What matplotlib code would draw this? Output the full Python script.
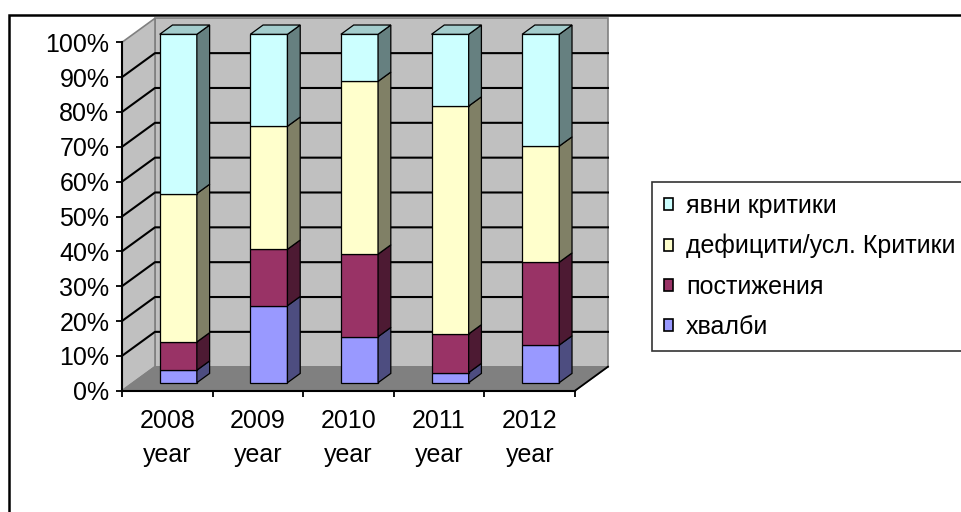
import numpy as np
import matplotlib
matplotlib.use('Agg')
import matplotlib.pyplot as plt
from matplotlib.patches import Polygon, Patch, Rectangle

plt.rcParams['font.family'] = ['Liberation Sans', 'DejaVu Sans']

# data (percent of each year)
years = ['2008\nyear', '2009\nyear', '2010\nyear', '2011\nyear', '2012\nyear']
names = ['хвалби', 'постижения', 'дефицити/усл. Критики', 'явни критики']
hvalbi = [3.6, 22.1, 13.2, 2.9, 10.8]
postizhenia = [8.1, 16.2, 23.7, 11.1, 23.8]
deficiti = [42.6, 35.3, 49.6, 65.4, 33.3]
kritiki = [45.7, 26.4, 13.5, 20.6, 32.1]

front_c = ['#9999FF', '#993366', '#FFFFCC', '#CCFFFF']
side_c = ['#4D4D80', '#4D1A33', '#808066', '#668080']
top_c = ['#7A7ACC', '#7A2952', '#CCCCA3', '#A3CCCC']

# fake 3d: depth vector in data units, bar depth range and width
DX, DY = 0.364, 6.89
F, B = 0.333, 0.72
W = 0.41
FS = 18

vals = np.array([hvalbi, postizhenia, deficiti, kritiki], dtype=float)
vals = vals / vals.sum(axis=0) * 100
n = len(years)

fig = plt.figure(figsize=(9.62, 5.12), dpi=100)
ax = fig.add_axes([122 / 962, 1 - 390.7 / 512, 453 / 962, 348.4 / 512])
ax.set_xlim(-0.5, n - 0.5)
ax.set_ylim(0, 100)

def poly(pts, fc, ec='black', lw=0.9, z=2):
    ax.add_patch(Polygon(pts, closed=True, facecolor=fc, edgecolor=ec,
                         linewidth=lw, clip_on=False, zorder=z))

x0, x1 = -0.5, n - 0.5
# walls and floor
poly([(x0 + DX, DY), (x1 + DX, DY), (x1 + DX, 100 + DY), (x0 + DX, 100 + DY)],
     '#C0C0C0', ec='#808080', lw=1.2, z=0)
poly([(x0, 0), (x0 + DX, DY), (x0 + DX, 100 + DY), (x0, 100)],
     '#C0C0C0', ec='#808080', lw=1.2, z=0)
poly([(x0, 0), (x1, 0), (x1 + DX, DY), (x0 + DX, DY)],
     '#808080', ec='#808080', lw=1.0, z=0)
ax.plot([x1, x1 + DX], [0, DY], color='black', lw=1.3, clip_on=False, zorder=1)

# gridlines on side and back wall
for v in range(10, 100, 10):
    ax.plot([x0, x0 + DX, x1 + DX], [v, v + DY, v + DY], color='black',
            lw=1.5, clip_on=False, zorder=1)

# stacked 3d columns
for j in range(n):
    xl = j + F * DX - W / 2
    xr = xl + W
    ddx, ddy = (B - F) * DX, (B - F) * DY
    yf = F * DY
    bottom = 0
    for i in range(len(names)):
        top = bottom + vals[i, j]
        poly([(xl, bottom + yf), (xr, bottom + yf), (xr, top + yf), (xl, top + yf)],
             front_c[i], z=3)
        poly([(xr, bottom + yf), (xr + ddx, bottom + yf + ddy),
              (xr + ddx, top + yf + ddy), (xr, top + yf)], side_c[i], z=3)
        if i == len(names) - 1:
            poly([(xl, top + yf), (xr, top + yf), (xr + ddx, top + yf + ddy),
                  (xl + ddx, top + yf + ddy)], top_c[i], z=3)
        bottom = top

# axes
for s in ['top', 'right']:
    ax.spines[s].set_visible(False)
for s in ['left', 'bottom']:
    ax.spines[s].set_linewidth(1.5)
    ax.spines[s].set_zorder(4)
ax.set_facecolor('none')
ax.set_yticks(range(0, 101, 10))
ax.set_yticklabels(['%d%%' % v for v in range(0, 101, 10)], fontsize=FS)
ax.tick_params(axis='y', direction='out', length=4, width=1.3, pad=5)
ax.set_xticks(range(n))
ax.set_xticklabels(years, fontsize=FS, linespacing=1.55)
ax.set_xticks(np.arange(-0.5, n, 1), minor=True)
ax.tick_params(axis='x', which='major', length=0, pad=13)
ax.tick_params(axis='x', which='minor', direction='out', length=4, width=1.3)

handles = [Patch(facecolor=front_c[i], edgecolor='black', linewidth=1.2, label=names[i])
           for i in range(len(names) - 1, -1, -1)]
leg = fig.legend(handles=handles, loc='upper left',
                 bbox_to_anchor=(651.5 / 962, 1 - 181.5 / 512), fontsize=FS,
                 frameon=True, fancybox=False, borderpad=0.5, labelspacing=0.64,
                 handlelength=0.36, handleheight=0.36, handletextpad=0.52,
                 borderaxespad=0)
leg.get_frame().set_edgecolor('black')
leg.get_frame().set_linewidth(1.2)

# chart area border
fig.patches.append(Rectangle((8.5 / 962, -0.1), 1.2, 1.1 - 15 / 512,
                             transform=fig.transFigure, fill=False,
                             edgecolor='black', linewidth=1.8))

fig.savefig('out.png', dpi=100, facecolor='white')
